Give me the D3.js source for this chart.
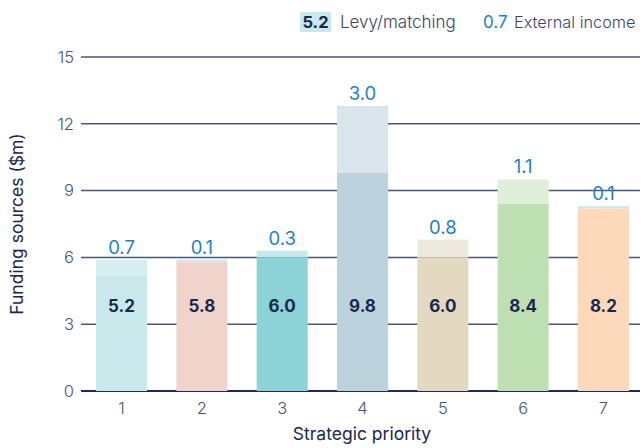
<!DOCTYPE html>
<html><head><meta charset="utf-8">
<script src="https://cdn.jsdelivr.net/npm/d3@7"></script>
<style>html,body{margin:0;background:#fff;overflow:hidden}svg{display:block}text{font-family:Inter,"Open Sans",sans-serif}</style>
</head><body><svg id="c" width="644" height="448"></svg>
<script>
const categories = ["1","2","3","4","5","6","7"];
const levy = [5.2, 5.8, 6.0, 9.8, 6.0, 8.4, 8.2];
const external = [0.7, 0.1, 0.3, 3.0, 0.8, 1.1, 0.1];
const levyColors = ["#c8e8ec","#f0d4cb","#8bd3d6","#bcd3de","#e3d9c1","#bddfb2","#fdd9bc"];
const extColors = ["#d9eef1","#cde9ea","#c8e8e9","#dbe5ec","#eee9de","#dfefd9","#cbe9ec"];
const yTicks = [0,3,6,9,12,15];

const svg = d3.select("#c");
const x = d3.scaleBand().domain(categories).range([84,641]).paddingInner(0.365).paddingOuter(0.15);
const y = d3.scaleLinear().domain([0,15]).range([391,57]);

// gridlines
svg.append("g").selectAll("line").data(yTicks).join("line")
  .attr("x1",81).attr("x2",640).attr("y1",d=>y(d)).attr("y2",d=>y(d))
  .attr("stroke",d=>d===0?"#1c2a55":"#4a5678").attr("stroke-width",d=>d===0?1.8:1.5);

// y tick labels
svg.append("g").selectAll("text").data(yTicks).join("text")
  .attr("x",74).attr("y",d=>y(d)).attr("dy","0.35em").attr("text-anchor","end")
  .attr("font-size",16.5).attr("font-weight",300).attr("fill","#4a5472").text(d=>d);

const data = categories.map((c,i)=>({c,l:levy[i],e:external[i],i}));

// external (top) segments
svg.append("g").selectAll("rect").data(data).join("rect")
  .attr("x",d=>x(d.c)).attr("width",x.bandwidth())
  .attr("y",d=>y(d.l+d.e)).attr("height",d=>y(d.l)-y(d.l+d.e))
  .attr("fill",d=>extColors[d.i]);
// levy segments
svg.append("g").selectAll("rect").data(data).join("rect")
  .attr("x",d=>x(d.c)).attr("width",x.bandwidth())
  .attr("y",d=>y(d.l)).attr("height",d=>y(0)-y(d.l))
  .attr("fill",d=>levyColors[d.i]);

// levy labels
svg.append("g").selectAll("text").data(data).join("text")
  .attr("x",d=>x(d.c)+x.bandwidth()/2).attr("y",y(3.8)).attr("dy","0.35em")
  .attr("text-anchor","middle").attr("font-size",17).attr("font-weight",700).attr("fill","#1a2650")
  .text(d=>d.l.toFixed(1));
// external labels
svg.append("g").selectAll("text").data(data).join("text")
  .attr("x",d=>x(d.c)+x.bandwidth()/2).attr("y",d=>y(d.l+d.e)-6)
  .attr("text-anchor","middle").attr("font-size",18.5).attr("font-weight",400).attr("fill","#1f80c4")
  .text(d=>d.e.toFixed(1));

// x tick labels
svg.append("g").selectAll("text").data(categories).join("text")
  .attr("x",d=>x(d)+x.bandwidth()/2).attr("y",408).attr("dy","0.35em")
  .attr("text-anchor","middle").attr("font-size",16.5).attr("font-weight",300).attr("fill","#4a5472").text(d=>d);

// axis titles
svg.append("text").attr("x",362).attr("y",434).attr("dy","0.35em").attr("text-anchor","middle")
  .attr("font-size",17.5).attr("fill","#1a2650").text("Strategic priority");
svg.append("text").attr("transform","translate(17,224) rotate(-90)").attr("dy","0.35em").attr("text-anchor","middle")
  .attr("font-size",17.5).attr("fill","#1a2650").text("Funding sources ($m)");

// legend
const lg = svg.append("g");
lg.append("rect").attr("x",300).attr("y",12).attr("width",31).attr("height",20).attr("fill",levyColors[0]);
lg.append("text").attr("x",315.5).attr("y",22).attr("dy","0.35em").attr("text-anchor","middle")
  .attr("font-size",16.5).attr("font-weight",700).attr("fill","#1a2650").text(levy[0].toFixed(1));
lg.append("text").attr("x",340).attr("y",22).attr("dy","0.35em")
  .attr("font-size",17).attr("font-weight",300).attr("fill","#3a4563").text("Levy/matching");
lg.append("text").attr("x",483).attr("y",22).attr("dy","0.35em")
  .attr("font-size",17).attr("font-weight",400).attr("fill","#1f80c4").text(external[0].toFixed(1));
lg.append("text").attr("x",514).attr("y",22).attr("dy","0.35em")
  .attr("font-size",16.3).attr("font-weight",300).attr("fill","#3a4563").text("External income");
</script></body></html>
